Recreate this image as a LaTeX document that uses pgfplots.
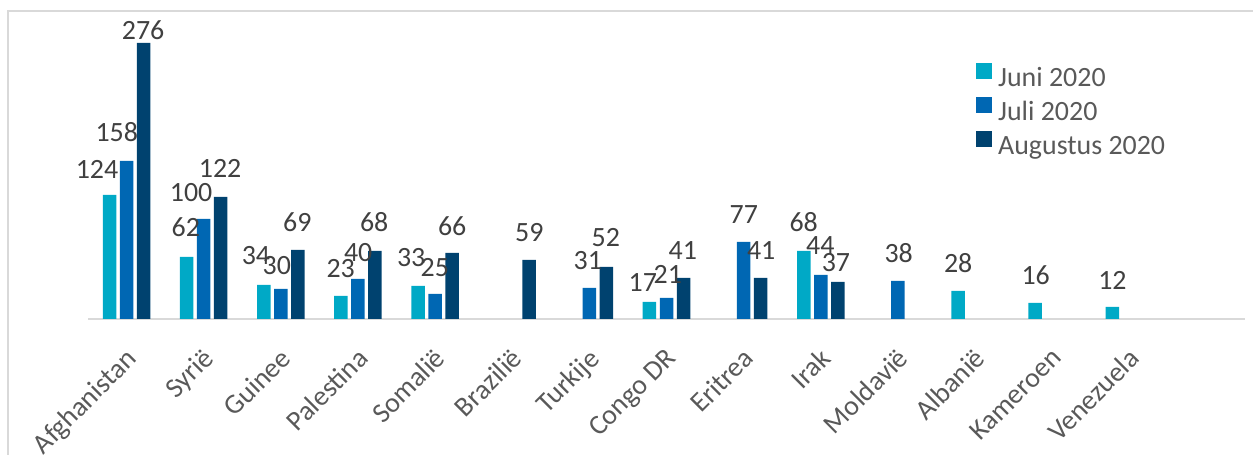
\documentclass[border=0pt]{standalone}
\usepackage{pgfplots}
\pgfplotsset{compat=1.18}
\usepackage{fontspec}
\setmainfont{Carlito}
\definecolor{cjuni}{HTML}{00A9C6}
\definecolor{cjuli}{HTML}{0067B3}
\definecolor{caug}{HTML}{00426F}
\definecolor{lbl}{HTML}{404040}
\definecolor{tck}{HTML}{595959}
\definecolor{frm}{HTML}{D9D9D9}
\begin{document}
\begin{tikzpicture}[x=1bp,y=1bp]
\useasboundingbox (0,0) rectangle (1253,455);
\draw[frm, line width=1.5bp] (8,-2) -- (8,444) -- (1255,444);
\begin{axis}[
  at={(88bp,136bp)}, anchor=south west,
  scale only axis, width=1157bp, height=290bp,
  xmin=-0.5, xmax=14.5, ymin=0, ymax=290,
  axis x line*=bottom, axis y line=none,
  x axis line style={frm, line width=1.5bp, -},
  xtick={0,...,13},
  xticklabels={Afghanistan,Syrië,Guinee,Palestina,Somalië,Brazilië,Turkije,Congo DR,Eritrea,Irak,Moldavië,Albanië,Kameroen,Venezuela},
  major tick length=0pt,
  xticklabel style={rotate=45, anchor=north east, font=\fontsize{28}{33}\selectfont, text=tck, yshift=-16bp, xshift=-19bp, inner sep=2bp},
  ytick=\empty,
  clip=false,
  legend style={at={(0.7675,0.885)}, anchor=north west, draw=none, fill=none,
    inner sep=0pt, font=\fontsize{28}{33}\selectfont, text=tck, row sep=7bp,
    /tikz/every odd column/.append style={column sep=4bp}},
  legend cell align=left,
]
\addplot[ybar, bar width=0.175, bar shift=-0.2205, fill=cjuni, draw=none,
  legend image code/.code={\fill[cjuni] (0bp,-1bp) rectangle (16bp,15bp);}]
  coordinates {(0,124) (1,62) (2,34) (3,23) (4,33) (7,17) (9,68) (11,28) (12,16) (13,12)};
\addplot[ybar, bar width=0.175, bar shift=0, fill=cjuli, draw=none,
  legend image code/.code={\fill[cjuli] (0bp,-1bp) rectangle (16bp,15bp);}]
  coordinates {(0,158) (1,100) (2,30) (3,40) (4,25) (6,31) (7,21) (8,77) (9,44) (10,38)};
\addplot[ybar, bar width=0.175, bar shift=0.2205, fill=caug, draw=none,
  legend image code/.code={\fill[caug] (0bp,-1bp) rectangle (16bp,15bp);}]
  coordinates {(0,276) (1,122) (2,69) (3,68) (4,66) (5,59) (6,52) (7,41) (8,41) (9,37)};
\legend{Juni 2020, Juli 2020, Augustus 2020}
\addplot[draw=none, forget plot, nodes near coords={\pgfplotspointmeta}, point meta=explicit symbolic,
  every node near coord/.append style={inner sep=0pt, text=lbl, font=\fontsize{28}{33}\selectfont}]
  table[meta=l] {
x y l
-0.383 140.7 124
-0.127 177.3 158
0.214 279 276
0.769 81.7 62
0.837 117.3 100
1.213 141.3 122
1.677 54 34
1.948 44 30
2.214 87.3 69
2.776 40.7 23
3.003 57.3 40
3.210 87.3 68
3.690 52.3 33
3.997 42.3 25
4.222 83 66
5.221 77 59
5.979 49 31
6.213 72.3 52
6.693 27.3 17
7.017 35.7 21
7.211 59.7 41
8.003 95 77
8.227 59.7 41
8.778 87.3 68
8.995 64 44
9.196 47.3 37
10.010 55.7 38
10.781 45.7 28
11.786 34 16
12.782 29.7 12
};
\end{axis}
\end{tikzpicture}
\end{document}
